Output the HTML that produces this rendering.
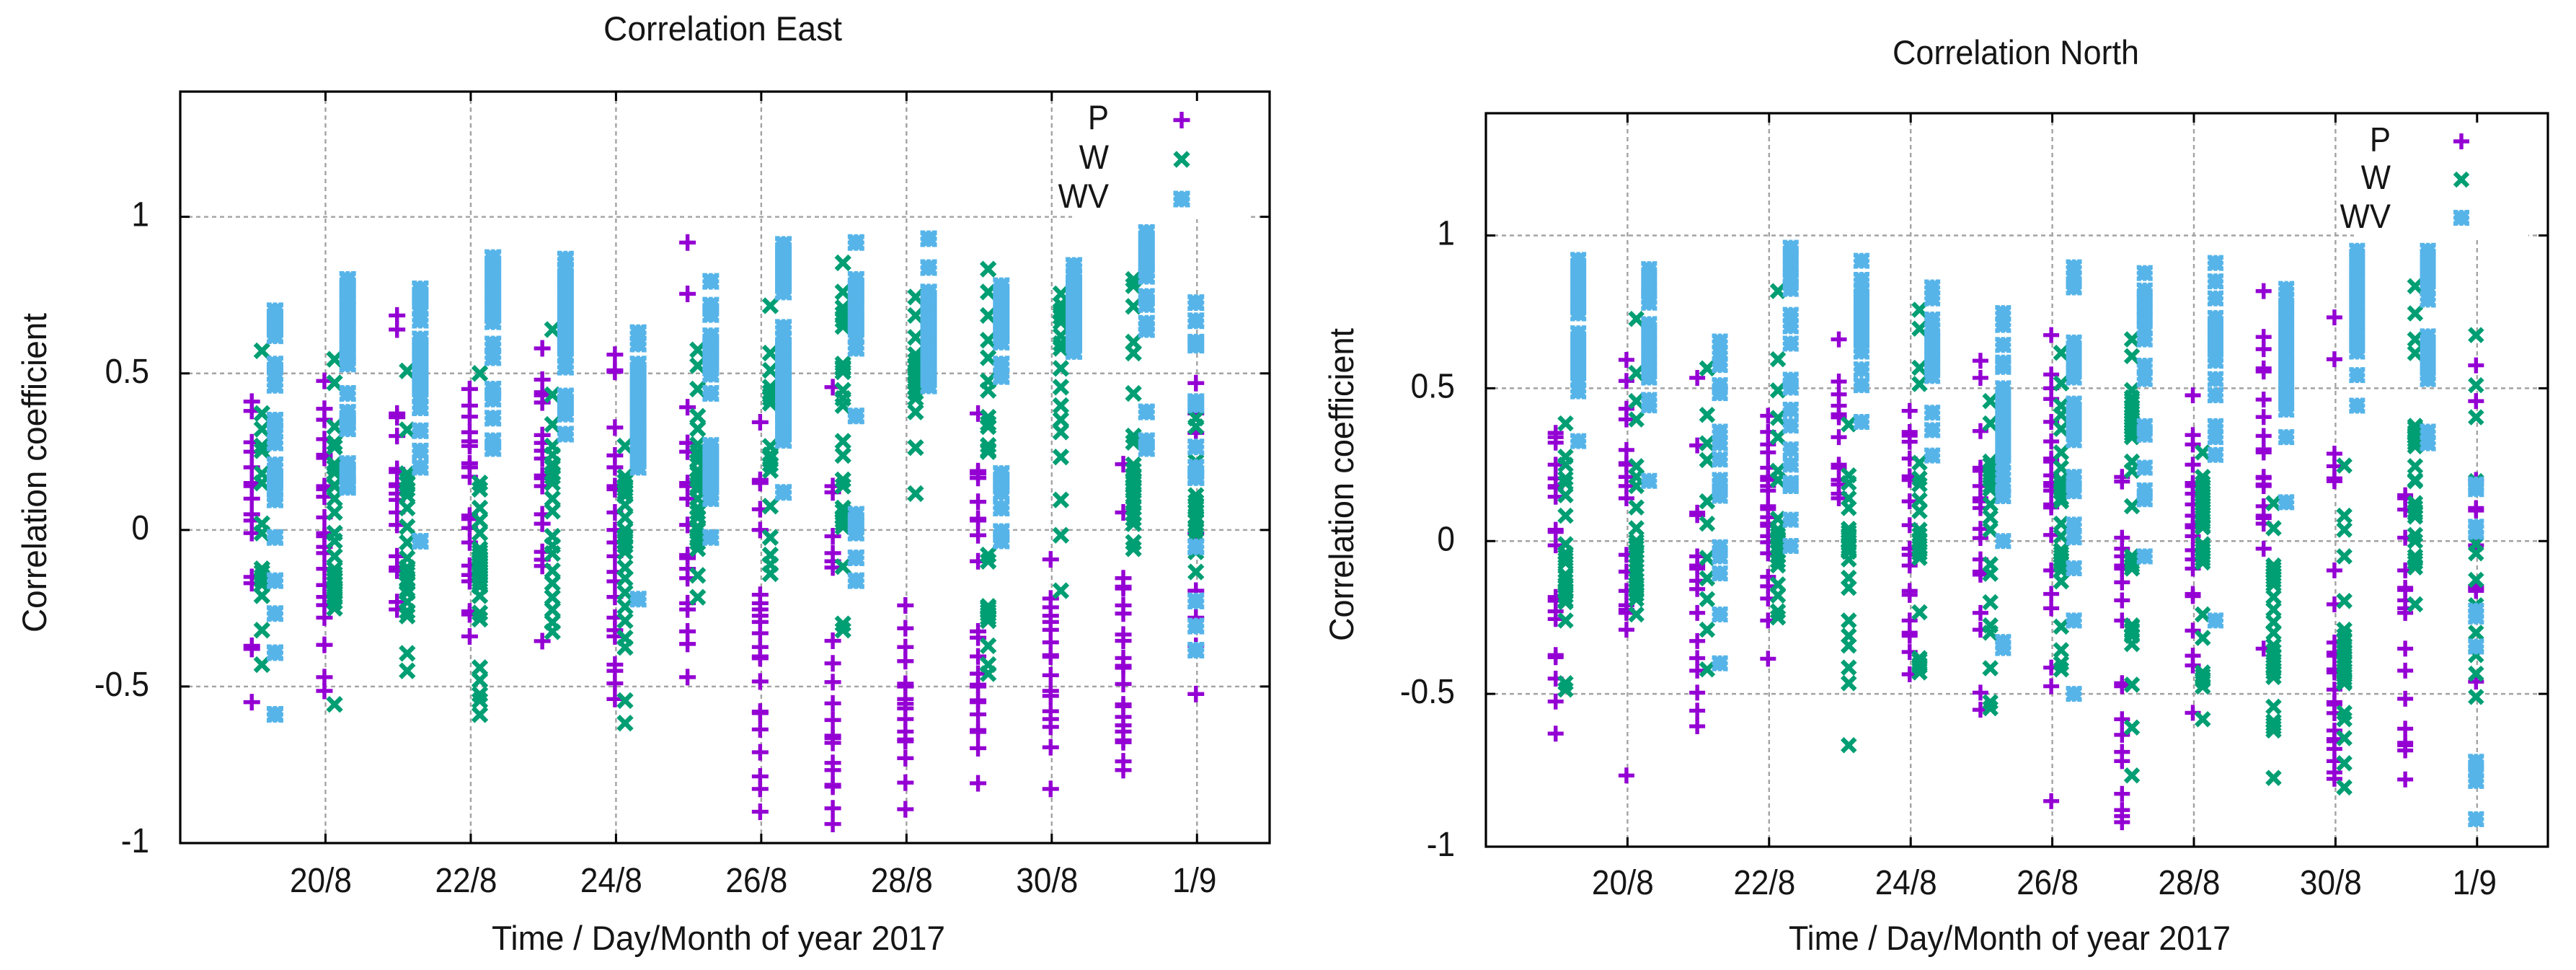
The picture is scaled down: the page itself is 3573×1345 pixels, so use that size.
<!DOCTYPE html>
<html lang="en">
<head>
<meta charset="utf-8">
<title>Correlation East and North</title>
<style>
html,body{margin:0;padding:0;background:#fff;}
svg{display:block;}
text{font-family:"Liberation Sans",sans-serif;fill:#151515;}
</style>
</head>
<body>
<svg id="figure" xmlns="http://www.w3.org/2000/svg" width="3573" height="1345" viewBox="0 0 3573 1345">
  <rect x="0" y="0" width="3573" height="1345" fill="#fff"/>
  <g id="panel-east"></g>
  <g id="panel-north"></g>

  <text x="837" y="56" font-size="47" textLength="331" lengthAdjust="spacingAndGlyphs">Correlation East</text>
  <text x="682" y="1317" font-size="47" textLength="629" lengthAdjust="spacingAndGlyphs">Time / Day/Month of year 2017</text>
  <text transform="translate(64,877) rotate(-90)" font-size="47" textLength="443" lengthAdjust="spacingAndGlyphs">Correlation coefficient</text>

  <text x="2625" y="89" font-size="47" textLength="342" lengthAdjust="spacingAndGlyphs">Correlation North</text>
  <text x="2481" y="1317" font-size="47" textLength="613" lengthAdjust="spacingAndGlyphs">Time / Day/Month of year 2017</text>
  <text transform="translate(1877,889) rotate(-90)" font-size="47" textLength="434" lengthAdjust="spacingAndGlyphs">Correlation coefficient</text>
</svg>

<script>
/* Shared axis content */
const days = [19,20,21,22,23,24,25,26,27,28,29,30,31,32];
const xTickDays = [20,22,24,26,28,30,32];
const xTickLabels = ["20/8","22/8","24/8","26/8","28/8","30/8","1/9"];
const yTickValues = [-1,-0.5,0,0.5,1];
const yTickLabels = ["-1","-0.5","0","0.5","1"];
const seriesNames = ["P","W","WV"];

/* Correlation East: one list per day */
const eastP = [
 [.41,.38,.28,.25,.2,.15,.14,.1,.05,.03,-.01,-.15,-.17,-.37,-.38,-.55],
 [.476,.387,.352,.29,.24,.23,.14,.13,.106,.04,-.01,-.02,-.054,-.074,-.124,-.176,-.214,-.24,-.28,-.367,-.47,-.514],
 [.685,.64,.372,.36,.3,.195,.185,.14,.146,.116,.096,.056,.016,-.084,-.12,-.13,-.23,-.254],
 [.45,.397,.362,.312,.283,.268,.213,.2,.17,.046,.035,.006,-.04,-.114,-.144,-.164,-.26,-.27,-.34],
 [.58,.48,.44,.43,.407,.303,.278,.253,.228,.174,.165,.14,.05,.02,-.07,-.095,-.115,-.355],
 [.56,.51,.505,.327,.238,.2,.14,.13,.056,0,-.04,-.084,-.134,-.164,-.214,-.28,-.32,-.34,-.43,-.45,-.49,-.54],
 [.918,.754,.392,.278,.25,.15,.14,.1,.016,-.08,-.09,-.124,-.154,-.234,-.254,-.324,-.364,-.47],
 [.344,.16,.15,.066,0,-.207,-.234,-.254,-.274,-.294,-.33,-.374,-.404,-.41,-.484,-.58,-.585,-.637,-.71,-.787,-.827,-.9],
 [.456,.14,.12,-.02,-.074,-.1,-.12,-.354,-.426,-.486,-.554,-.607,-.657,-.665,-.68,-.744,-.767,-.814,-.82,-.889,-.939],
 [-.241,-.314,-.374,-.419,-.491,-.5,-.54,-.555,-.57,-.604,-.644,-.669,-.675,-.729,-.807,-.892],
 [.372,.188,.18,.166,.09,.036,.03,-.017,-.1,-.324,-.344,-.404,-.459,-.494,-.5,-.544,-.55,-.589,-.639,-.645,-.697,-.809],
 [-.094,-.219,-.247,-.274,-.294,-.319,-.359,-.4,-.405,-.464,-.514,-.53,-.579,-.604,-.629,-.694,-.827],
 [.21,.056,-.154,-.181,-.187,-.241,-.267,-.334,-.354,-.409,-.434,-.44,-.492,-.557,-.563,-.597,-.624,-.644,-.672,-.678,-.739,-.767],
 [.469,.372,.31,-.01,-.194,-.28,-.37,-.524]
];
const eastW = [
 [.572,.372,.322,.268,.253,.18,.15,.15,.02,-.01,-.124,-.135,-.149,-.16,-.174,-.21,-.32,-.43],
 [.545,.47,.33,.278,.265,.21,.2,.183,.143,.14,.1,.056,-.01,-.035,-.084,-.125,-.14,-.15,-.16,-.17,-.184,-.19,-.2,-.21,-.23,-.25,-.557],
 [.508,.32,.18,.16,.15,.13,.15,.11,.07,.01,-.04,-.09,-.12,-.13,-.14,-.16,-.17,-.19,-.2,-.23,-.26,-.275,-.394,-.45],
 [.5,.15,.13,.07,.03,-.01,-.06,-.07,-.08,-.09,-.1,-.11,-.12,-.13,-.14,-.15,-.16,-.17,-.18,-.21,-.265,-.285,-.44,-.48,-.525,-.545,-.59],
 [.64,.432,.337,.268,.24,.21,.2,.18,.17,.15,.15,.1,.06,-.02,-.05,-.075,-.13,-.17,-.215,-.255,-.295,-.325],
 [.268,.17,.14,.155,.13,.12,.11,.08,.04,0,-.02,-.025,-.04,-.05,-.07,-.12,-.155,-.2,-.245,-.29,-.345,-.375,-.545,-.617],
 [.575,.525,.45,.363,.323,.273,.25,.24,.22,.19,.18,.16,.13,.14,.1,.07,.056,.04,.01,0,-.02,-.03,-.04,-.06,-.145,-.215],
 [.716,.565,.51,.456,.44,.43,.42,.405,.267,.24,.23,.21,.19,.076,-.024,-.08,-.11,-.14],
 [.853,.76,.71,.69,.67,.65,.53,.52,.515,.505,.446,.42,.397,.283,.238,.16,.14,.07,.06,.04,.03,.02,.01,-.117,-.3,-.32],
 [.744,.685,.615,.56,.54,.526,.52,.5,.496,.48,.47,.456,.44,.42,.377,.263,.116],
 [.833,.76,.685,.606,.55,.476,.446,.36,.34,.33,.27,.255,.25,-.08,-.1,-.244,-.25,-.26,-.269,-.28,-.29,-.37,-.43,-.459],
 [.754,.72,.7,.694,.68,.664,.62,.595,.58,.516,.456,.397,.352,.313,.233,.096,-.017,-.194],
 [.8,.78,.714,.6,.565,.436,.3,.28,.208,.19,.17,.16,.14,.13,.15,.11,.09,.07,.05,.036,.02,-.04,-.06],
 [.357,.33,.218,.11,.09,.08,.07,.06,.04,.03,.01,0,-.014,-.05,-.07,-.134]
];
const eastWV = [
 [.7,.67,.645,.62,.53,.5,.462,.351,.317,.278,.208,.17,.16,.13,.096,-.024,-.162,-.267,-.392,-.589],
 [.8,.77,.74,.71,.68,.65,.62,.59,.56,.53,.436,.376,.345,.323,.212,.18,.15,.136],
 [.77,.74,.71,.67,.61,.58,.55,.52,.49,.46,.43,.39,.317,.252,.2,-.036],
 [.87,.84,.81,.78,.75,.72,.69,.665,.594,.55,.45,.418,.357,.285,.26],
 [.865,.83,.8,.77,.74,.71,.68,.65,.62,.59,.56,.52,.428,.4,.37,.306],
 [.63,.594,.53,.5,.47,.44,.41,.38,.35,.32,.29,.26,.23,.2,-.221],
 [.794,.718,.688,.62,.59,.56,.53,.497,.436,.27,.24,.21,.18,.15,.12,.1,-.024],
 [.912,.88,.85,.82,.79,.76,.647,.61,.58,.55,.52,.49,.46,.43,.4,.37,.34,.31,.286,.12],
 [.918,.8,.77,.74,.71,.68,.65,.62,.58,.364,.05,.02,-.01,-.089,-.162],
 [.93,.838,.76,.73,.7,.67,.64,.61,.58,.55,.52,.49,.46],
 [.78,.75,.72,.69,.66,.63,.6,.53,.49,.18,.15,.12,.07,-.005,-.035],
 [.845,.81,.78,.75,.72,.69,.66,.63,.6,.57],
 [.95,.92,.89,.86,.83,.81,.746,.72,.66,.64,.377,.285,.26],
 [.726,.668,.6,.59,.41,.4,.265,.2,.17,.167,-.054,-.227,-.307,-.384]
];

/* Correlation North: one list per day */
const northP = [
 [.354,.34,.322,.25,.205,.18,.175,.145,.037,.03,-.014,-.183,-.195,-.23,-.255,-.373,-.38,-.45,-.525,-.63],
 [.593,.524,.433,.398,.298,.255,.25,.21,.18,.14,-.045,-.1,-.163,-.21,-.225,-.235,-.29,-.767],
 [.534,.313,.093,.085,-.05,-.08,-.09,-.13,-.157,-.235,-.327,-.383,-.424,-.496,-.555,-.606],
 [.41,.357,.316,.29,.24,.21,.18,.2,.165,.114,.105,.078,.057,.05,.016,-.004,-.04,-.117,-.148,-.188,-.26,-.385],
 [.66,.522,.48,.443,.415,.405,.34,.25,.24,.2,.185,.155,.14],
 [.426,.357,.345,.325,.27,.212,.2,.13,.052,-.025,-.045,-.08,-.163,-.176,-.26,-.3,-.31,-.363,-.436],
 [.59,.534,.36,.24,.23,.18,.14,.13,.108,.04,.01,-.06,-.1,-.11,-.235,-.29,-.496,-.552],
 [.674,.545,.5,.465,.39,.326,.27,.26,.215,.18,.19,.165,.12,.11,.02,-.096,-.173,-.22,-.414,-.475,-.851],
 [.21,.195,.011,-.025,-.05,-.08,-.09,-.135,-.194,-.26,-.465,-.475,-.583,-.634,-.69,-.72,-.827,-.88,-.9,-.92],
 [.477,.347,.316,.25,.19,.18,.155,.12,.083,.052,.045,.016,-.03,-.06,-.09,-.173,-.18,-.293,-.375,-.407,-.562],
 [.818,.668,.628,.565,.555,.463,.406,.344,.3,.29,.21,.185,.206,.18,.114,.083,.075,.057,-.025,-.352],
 [.732,.595,.286,.245,.205,.196,-.096,-.207,-.332,-.365,-.375,-.42,-.43,-.486,-.527,-.535,-.563,-.62,-.648,-.655,-.68,-.72,-.757,-.778],
 [.15,.14,.103,.011,-.096,-.153,-.16,-.194,-.22,-.235,-.352,-.424,-.516,-.614,-.66,-.668,-.685,-.78],
 [.575,.458,.2,.108,.1,-.014,-.148,-.155,-.163,-.46]
];
const northW = [
 [.385,.276,.25,.205,.19,.15,.083,-.01,-.04,-.05,-.06,-.07,-.11,-.117,-.13,-.142,-.15,-.16,-.168,-.18,-.194,-.2,-.26,-.465,-.486],
 [.727,.55,.458,.398,.245,.21,.18,.11,.042,0,-.01,-.02,-.035,-.05,-.065,-.08,-.096,-.11,-.127,-.14,-.15,-.163,-.175,-.19,-.24],
 [.565,.413,.32,.265,.13,.057,-.055,-.122,-.19,-.29,-.42],
 [.818,.595,.493,.403,.34,.23,.2,.2,.073,.037,.03,.02,.01,0,-.02,-.035,-.05,-.065,-.08,-.142,-.178,-.23,-.25],
 [.382,.215,.19,.14,.108,.04,.03,.02,.015,0,-.01,-.02,-.03,-.035,-.06,-.12,-.153,-.26,-.31,-.342,-.414,-.465,-.668],
 [.757,.695,.567,.514,.256,.205,.185,.134,.098,.037,.02,0,-.02,-.03,-.04,-.055,-.233,-.383,-.39,-.404,-.41,-.43],
 [.458,.385,.26,.25,.23,.22,.21,.2,.18,.2,.17,.12,.078,.037,-.076,-.107,-.2,-.276,-.3,-.416,-.527,-.547],
 [.616,.516,.443,.413,.367,.29,.24,.2,.19,.18,.17,.16,.14,.13,.057,.016,-.03,-.04,-.05,-.06,-.07,-.08,-.096,-.132,-.28,-.357,-.4,-.42],
 [.66,.605,.494,.47,.453,.44,.43,.42,.41,.4,.39,.38,.37,.36,.35,.34,.26,.23,.114,-.05,-.06,-.07,-.08,-.09,-.276,-.28,-.29,-.296,-.31,-.337,-.47,-.61,-.767],
 [.29,.21,.18,.19,.17,.16,.15,.14,.13,.12,.11,.1,.09,.08,.068,.06,.05,.045,-.01,-.02,-.03,-.04,-.05,-.06,-.07,-.24,-.317,-.43,-.44,-.45,-.455,-.476,-.583],
 [.124,.042,-.08,-.09,-.1,-.11,-.12,-.13,-.142,-.183,-.224,-.265,-.3,-.342,-.36,-.378,-.39,-.4,-.41,-.42,-.43,-.445,-.542,-.59,-.6,-.61,-.62,-.775],
 [.247,.083,.037,-.05,-.196,-.29,-.31,-.327,-.34,-.35,-.363,-.38,-.39,-.4,-.41,-.424,-.44,-.45,-.46,-.465,-.562,-.583,-.645,-.727,-.806],
 [.834,.745,.66,.615,.377,.37,.357,.35,.34,.33,.32,.31,.245,.2,.196,.124,.11,.098,.09,.08,.02,0,-.05,-.06,-.07,-.086,-.207],
 [.674,.51,.405,.196,-.01,-.04,-.127,-.21,-.3,-.373,-.434,-.51]
];
const northWV = [
 [.92,.89,.86,.83,.8,.77,.745,.68,.65,.62,.59,.56,.53,.49,.327],
 [.89,.86,.83,.8,.78,.71,.68,.65,.62,.59,.56,.535,.462,.444,.197],
 [.653,.616,.576,.51,.484,.358,.32,.267,.2,.18,.148,-.02,-.05,-.106,-.24,-.4],
 [.96,.93,.9,.87,.85,.825,.74,.703,.646,.528,.502,.43,.378,.3,.25,.19,.18,.07,-.016],
 [.917,.855,.82,.79,.76,.73,.7,.67,.64,.62,.562,.51,.39],
 [.83,.794,.725,.69,.66,.63,.6,.57,.54,.42,.363,.28],
 [.746,.707,.642,.584,.57,.5,.47,.44,.41,.38,.35,.32,.29,.26,.22,.18,.147,0,-.33,-.35],
 [.896,.86,.83,.65,.62,.59,.56,.535,.45,.42,.39,.36,.33,.21,.19,.163,.054,.012,-.089,-.26,-.5],
 [.877,.82,.79,.76,.73,.7,.66,.574,.53,.376,.348,.24,.166,.137,-.05],
 [.91,.85,.794,.73,.7,.67,.64,.61,.59,.53,.477,.376,.34,.282,-.26],
 [.825,.79,.76,.73,.7,.67,.64,.61,.58,.55,.52,.49,.46,.43,.34,.127],
 [.95,.92,.89,.86,.83,.8,.77,.74,.71,.68,.65,.62,.543,.443],
 [.95,.92,.89,.86,.83,.79,.67,.64,.61,.58,.55,.53,.358,.32],
 [.185,.17,.047,.03,-.228,-.247,-.345,-.722,-.75,-.785,-.91]
];

const SVG_NS = "http://www.w3.org/2000/svg";

function make(parent, tag, attrs) {
  const node = document.createElementNS(SVG_NS, tag);
  for (const key in attrs) node.setAttribute(key, attrs[key]);
  parent.appendChild(node);
  return node;
}

/* Marker shapes, relative to the marker centre */
function plusPath(h) {
  return "M" + (-h) + ",0H" + h + "M0," + (-h) + "V" + h;
}
function crossPath(h) {
  return "M" + (-h) + "," + (-h) + "L" + h + "," + h + "M" + (-h) + "," + h + "L" + h + "," + (-h);
}
function starPath(h) {
  const n = h * 0.42, m = h * 0.24, d = 1.6;
  return "M" + (-h) + "," + (-h) + "H" + (-n) + "v" + d + "h" + (n - m) + "v" + (-d) + "H" + m + "v" + d + "h" + (n - m) + "v" + (-d) + "H" + h +
    "V" + (-n) + "h" + (-d) + "v" + (n - m) + "h" + d + "V" + m + "h" + (-d) + "v" + (n - m) + "h" + d + "V" + h +
    "H" + n + "v" + (-d) + "h" + (m - n) + "v" + d + "H" + (-m) + "v" + (-d) + "h" + (m - n) + "v" + d + "H" + (-h) +
    "V" + n + "h" + d + "v" + (m - n) + "h" + (-d) + "V" + (-m) + "h" + d + "v" + (m - n) + "h" + (-d) + "Z";
}

function drawMarker(parent, kind, x, y, h) {
  let mark;
  if (kind === "P") {
    mark = make(parent, "path", {d: plusPath(h), fill: "none", stroke: "#9400D3", "stroke-width": 5.4});
  } else if (kind === "W") {
    mark = make(parent, "path", {d: crossPath(h * 0.82), fill: "none", stroke: "#009E73", "stroke-width": 6.4});
  } else {
    mark = make(parent, "path", {d: starPath(h), fill: "#56B4E9"});
  }
  mark.setAttribute("transform", "translate(" + x + "," + y + ")");
  
  
  return mark;
}

function drawPanel(root, cfg, seriesLists) {
  const xScale = function (day) {
    return cfg.left + (day - cfg.xMin) / (cfg.xMax - cfg.xMin) * (cfg.right - cfg.left);
  };
  const yScale = function (v) {
    return cfg.bottom - (v - cfg.yMin) / (cfg.yMax - cfg.yMin) * (cfg.bottom - cfg.top);
  };

  /* Grid */
  const grid = make(root, "g", {fill: "none", stroke: "#a3a3a3", "stroke-width": 2.4, "stroke-dasharray": "6 5"});
  
  
  xTickDays.forEach(function (d) {
    const line = make(grid, "line", {x1: xScale(d), x2: xScale(d), y1: cfg.top, y2: cfg.bottom});
    
    
  });
  yTickValues.forEach(function (v) {
    if (v === cfg.yMin) return;
    const line = make(grid, "line", {x1: cfg.left, x2: cfg.right, y1: yScale(v), y2: yScale(v)});
    
    
  });

  /* Series */
  seriesNames.forEach(function (name, s) {
    const group = make(root, "g", {});
    
    
    days.forEach(function (day, i) {
      const offset = day === days[days.length - 1] ? cfg.offsets[0] : cfg.offsets[s];
      seriesLists[s][i].forEach(function (value) {
        drawMarker(group, name, xScale(day + offset), yScale(value), cfg.marker);
      });
    });
  });

  /* Legend */
  const legend = make(root, "g", {});
  
  
  const legendBack = make(legend, "rect", {x: cfg.legendBox[0], y: cfg.top + 2, width: cfg.legendBox[1] - cfg.legendBox[0], height: cfg.legendBox[2] - cfg.top, fill: "#fff"});
  
  
  seriesNames.forEach(function (name, s) {
    const label = make(legend, "text", {x: 0, y: 0, "font-size": 47, "text-anchor": "end", transform: "translate(" + cfg.legendTextX + "," + cfg.legendBaselines[s] + ") scale(0.93,1)"});
    label.textContent = name;
    
    
    const sample = drawMarker(legend, name, cfg.legendMarkX, cfg.legendMarkY[s], cfg.marker);
    
  });

  /* Ticks */
  const ticks = make(root, "g", {stroke: "#000", "stroke-width": 3, fill: "none"});
  
  
  xTickDays.forEach(function (d) {
    make(ticks, "path", {d: "M" + xScale(d) + "," + cfg.bottom + "v-13M" + xScale(d) + "," + cfg.top + "v13"});
  });
  yTickValues.forEach(function (v) {
    make(ticks, "path", {d: "M" + cfg.left + "," + yScale(v) + "h13M" + cfg.right + "," + yScale(v) + "h-13"});
  });

  /* Frame */
  const frame = make(root, "rect", {x: cfg.left, y: cfg.top, width: cfg.right - cfg.left, height: cfg.bottom - cfg.top, fill: "none", stroke: "#000", "stroke-width": 3.2});
  
  

  /* Tick labels */
  xTickDays.forEach(function (d, i) {
    const shift = xTickLabels[i].length < 4 ? -3.5 : -6.5;
    const label = make(root, "text", {x: 0, y: 0, "font-size": 48, "text-anchor": "middle", transform: "translate(" + (xScale(d) + shift) + "," + cfg.xLabelBaseline + ") scale(0.92,1)"});
    label.textContent = xTickLabels[i];
    
    
  });
  yTickValues.forEach(function (v, i) {
    const label = make(root, "text", {x: 0, y: 0, "font-size": 48, "text-anchor": "end", transform: "translate(" + cfg.yLabelRight + "," + (yScale(v) + 13) + ") scale(0.92,1)"});
    label.textContent = yTickLabels[i];
    
    
  });
}

drawPanel(document.getElementById("panel-east"), {
  left: 250, right: 1761, top: 127, bottom: 1169,
  xMin: 18, xMax: 33, yMin: -1, yMax: 1.4,
  offsets: [-0.015, 0.125, 0.305], marker: 11.5,
  legendBox: [1487, 1733, 302], legendTextX: 1538, legendBaselines: [179, 234, 288],
  legendMarkX: 1639, legendMarkY: [166.5, 221, 276],
  xLabelBaseline: 1237, yLabelRight: 207
}, [eastP, eastW, eastWV]);

drawPanel(document.getElementById("panel-north"), {
  left: 2061, right: 3534, top: 157, bottom: 1174,
  xMin: 18, xMax: 33, yMin: -1, yMax: 1.4,
  offsets: [-0.015, 0.125, 0.305], marker: 11,
  legendBox: [3265, 3507, 328], legendTextX: 3316, legendBaselines: [209.5, 262, 316],
  legendMarkX: 3414, legendMarkY: [196, 249, 302],
  xLabelBaseline: 1240, yLabelRight: 2018
}, [northP, northW, northWV]);
</script>
</body>
</html>
